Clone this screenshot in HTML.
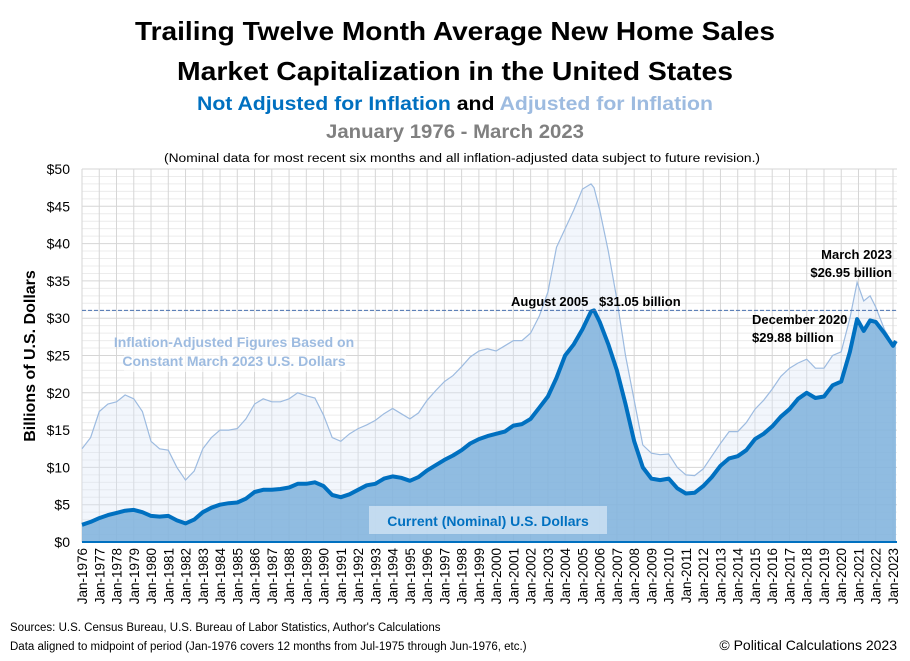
<!DOCTYPE html>
<html><head><meta charset="utf-8"><style>
body{margin:0;background:#fff;}
svg{display:block;font-family:"Liberation Sans",sans-serif;}
</style></head><body>
<svg id="chart" width="910" height="661" viewBox="0 0 910 661">
<text x="455" y="40" text-anchor="middle" font-size="26" font-weight="bold" textLength="640" lengthAdjust="spacingAndGlyphs">Trailing Twelve Month Average New Home Sales</text>
<text x="455" y="80" text-anchor="middle" font-size="26" font-weight="bold" textLength="556" lengthAdjust="spacingAndGlyphs">Market Capitalization in the United States</text>
<text x="455" y="110" text-anchor="middle" font-size="19" font-weight="bold" textLength="516" lengthAdjust="spacingAndGlyphs"><tspan fill="#0070c0">Not Adjusted for Inflation</tspan><tspan fill="#000"> and </tspan><tspan fill="#9dbbe0">Adjusted for Inflation</tspan></text>
<text x="455" y="138" text-anchor="middle" font-size="19" font-weight="bold" fill="#808080" textLength="258" lengthAdjust="spacingAndGlyphs">January 1976 - March 2023</text>
<text x="462" y="162" text-anchor="middle" font-size="11.5" textLength="596" lengthAdjust="spacingAndGlyphs">(Nominal data for most recent six months and all inflation-adjusted data subject to future revision.)</text>
<g id="grid"></g>
<g id="series"></g>
<g id="axes"></g>
<text transform="translate(35,356) rotate(-90)" text-anchor="middle" font-size="16" font-weight="bold">Billions of U.S. Dollars</text>
<rect x="124" y="330" width="222" height="42" fill="#fff" opacity="0.6"/>
<text x="234" y="347" text-anchor="middle" font-size="14" font-weight="bold" fill="#9dbbe0">Inflation-Adjusted Figures Based on</text>
<text x="234" y="366" text-anchor="middle" font-size="14" font-weight="bold" fill="#9dbbe0">Constant March 2023 U.S. Dollars</text>
<rect x="369" y="506" width="238" height="28" fill="#d4e5f4" opacity="0.75"/>
<text x="488" y="526" text-anchor="middle" font-size="14" font-weight="bold" fill="#0070c0">Current (Nominal) U.S. Dollars</text>
<text x="511" y="306" font-size="13" font-weight="bold">August 2005</text>
<text x="599" y="306" font-size="13" font-weight="bold">$31.05 billion</text>
<text x="752" y="324" font-size="13" font-weight="bold">December 2020</text>
<text x="752" y="342" font-size="13" font-weight="bold">$29.88 billion</text>
<text x="892" y="259" text-anchor="end" font-size="13" font-weight="bold">March 2023</text>
<text x="892" y="277" text-anchor="end" font-size="13" font-weight="bold">$26.95 billion</text>
<text x="10" y="631" font-size="11.5">Sources: U.S. Census Bureau, U.S. Bureau of Labor Statistics, Author's Calculations</text>
<text x="10" y="650" font-size="11.5">Data aligned to midpoint of period (Jan-1976 covers 12 months from Jul-1975 through Jun-1976, etc.)</text>
<text x="897" y="650" text-anchor="end" font-size="14">© Political Calculations 2023</text>
</svg>
<script>
const times=[1976,1976.5,1977,1977.5,1978,1978.5,1979,1979.5,1980,1980.5,1981,1981.5,1982,1982.5,1983,1983.5,1984,1984.5,1985,1985.5,1986,1986.5,1987,1987.5,1988,1988.5,1989,1989.5,1990,1990.5,1991,1991.5,1992,1992.5,1993,1993.5,1994,1994.5,1995,1995.5,1996,1996.5,1997,1997.5,1998,1998.5,1999,1999.5,2000,2000.5,2001,2001.5,2002,2002.5,2003,2003.5,2004,2004.5,2005,2005.5,2005.67,2006,2006.5,2007,2007.5,2008,2008.5,2009,2009.5,2010,2010.5,2011,2011.5,2012,2012.5,2013,2013.5,2014,2014.5,2015,2015.5,2016,2016.5,2017,2017.5,2018,2018.5,2019,2019.5,2020,2020.5,2020.92,2021.3,2021.67,2022,2022.5,2023,2023.17];
const nominal=[2.3,2.7,3.2,3.6,3.9,4.2,4.3,4.0,3.5,3.4,3.5,2.9,2.5,3.0,4.0,4.6,5.0,5.2,5.3,5.8,6.7,7.0,7.0,7.1,7.3,7.8,7.8,8.0,7.5,6.3,6.0,6.4,7.0,7.6,7.8,8.5,8.8,8.6,8.2,8.7,9.6,10.3,11.0,11.6,12.3,13.2,13.8,14.2,14.5,14.8,15.6,15.8,16.5,18.0,19.5,22.0,25.0,26.5,28.5,30.9,31.05,29.5,26.5,23.0,18.5,13.5,10.0,8.5,8.3,8.5,7.2,6.5,6.6,7.5,8.7,10.2,11.2,11.5,12.3,13.8,14.5,15.5,16.8,17.8,19.2,20.0,19.3,19.5,21.0,21.5,25.5,29.88,28.3,29.7,29.5,28.0,26.3,26.95];
const real=[12.5,14,17.5,18.5,18.8,19.7,19.2,17.5,13.5,12.5,12.3,10,8.3,9.5,12.5,14.0,15.0,15.0,15.2,16.5,18.5,19.2,18.8,18.8,19.2,20.0,19.6,19.3,17.0,14.0,13.5,14.5,15.2,15.7,16.3,17.2,17.9,17.2,16.5,17.3,19.0,20.3,21.5,22.3,23.5,24.8,25.6,25.9,25.6,26.3,27.0,27.0,28.0,30.3,33.5,39.5,42.0,44.5,47.3,48.0,47.5,44.5,39.0,32.5,25.0,19.0,13.0,11.9,11.7,11.8,10.0,9.0,8.9,9.8,11.5,13.2,14.8,14.8,16.0,17.8,19.0,20.5,22.2,23.3,24.0,24.5,23.3,23.3,25.0,25.5,30.0,34.8,32.3,33.0,31.5,28.5,26.5,26.95];
const yTicks=[0,5,10,15,20,25,30,35,40,45,50];
const years=[];for(let y=1976;y<=2023;y++)years.push(y);
const refLine=[31.05];

const NS="http://www.w3.org/2000/svg";
const X0=82,X1=893,Y0=542,Y1=169;
const xs=t=>X0+(t-1976)/(2023-1976)*(X1-X0);
const ys=v=>Y0-v/50*(Y0-Y1);
const XR=897;
function mk(tag,attrs,parent){const e=document.createElementNS(NS,tag);for(const k in attrs)e.setAttribute(k,attrs[k]);parent.appendChild(e);return e;}
const grid=document.getElementById('grid'),series=document.getElementById('series'),axes=document.getElementById('axes');
mk('rect',{x:X0,y:Y1,width:XR-X0,height:Y0-Y1,fill:'#fff'},grid);
for(let v=0;v<=50;v++){
  const l=mk('line',{x1:X0,x2:XR,y1:ys(v),y2:ys(v),stroke:v%5?'#ececec':'#d6d6d6','stroke-width':1},grid);
  
  
}
years.forEach(y=>{
  const l=mk('line',{x1:xs(y),x2:xs(y),y1:Y1,y2:Y0,stroke:'#d6d6d6','stroke-width':1},grid);
  
  
});
function pts(arr){return times.map((t,i)=>xs(t).toFixed(1)+','+ys(arr[i]).toFixed(1)).join(' L');}
const lastX=xs(times[times.length-1]);
const ra=mk('path',{d:'M'+X0+','+Y0+' L'+pts(real)+' L'+lastX+','+Y0+' Z',fill:'#dbe6f5','fill-opacity':0.35},series);


const rl=mk('path',{d:'M'+pts(real),fill:'none',stroke:'#9dbbe0','stroke-width':1.2},series);


const na=mk('path',{d:'M'+X0+','+Y0+' L'+pts(nominal)+' L'+lastX+','+Y0+' Z',fill:'#7fb2dc','fill-opacity':0.85},series);


const nl=mk('path',{d:'M'+pts(nominal),fill:'none',stroke:'#0070c0','stroke-width':4,'stroke-linejoin':'round'},series);


const rf=mk('line',{x1:X0,x2:XR,y1:ys(refLine[0]),y2:ys(refLine[0]),stroke:'#4a72b0','stroke-width':1,'stroke-dasharray':'4,2'},series);


const ax=mk('line',{x1:X0,x2:XR,y1:Y0,y2:Y0,stroke:'#0070c0','stroke-width':2},axes);


yTicks.forEach(v=>{
  const t=mk('text',{x:70,y:ys(v)+5,'text-anchor':'end','font-size':14},axes);
  t.textContent='$'+v;
  
  
});
years.forEach(y=>{
  const t=mk('text',{transform:'translate('+(xs(y)+5)+',548) rotate(-90)','text-anchor':'end','font-size':13.5},axes);
  t.textContent='Jan-'+y;
  
  
});
</script>
</body></html>
